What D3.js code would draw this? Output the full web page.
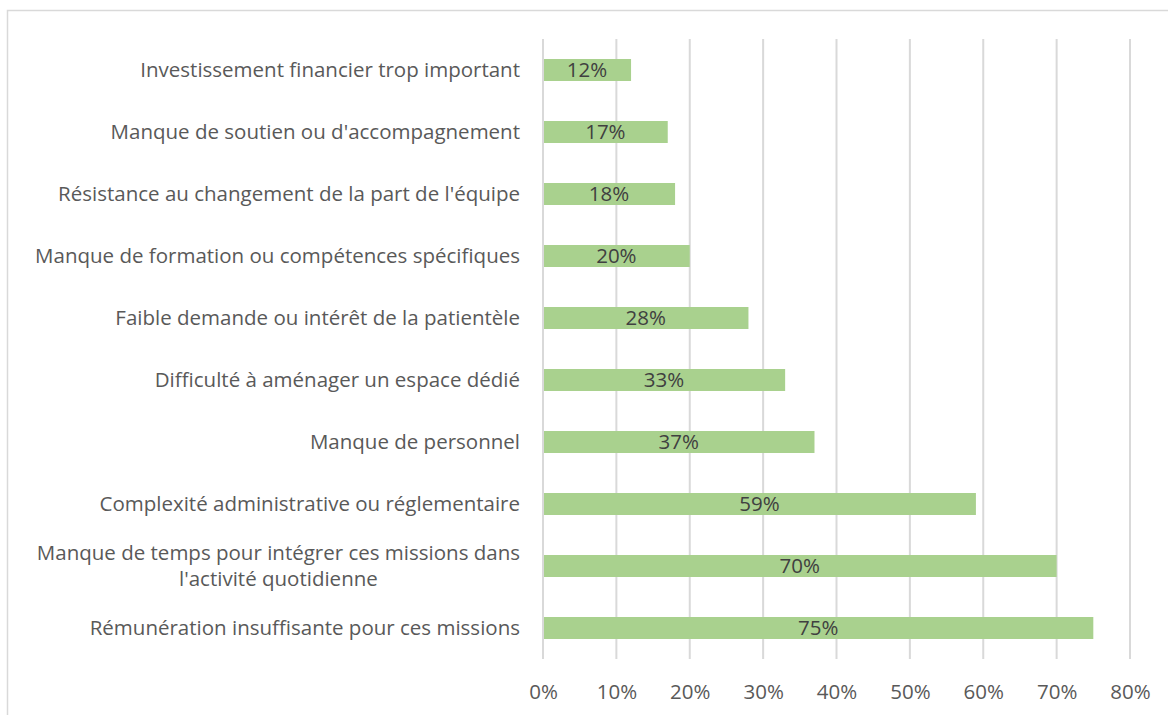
<!DOCTYPE html>
<html>
<head>
<meta charset="utf-8">
<script src="https://cdn.jsdelivr.net/npm/d3@7"></script>
<style>
  body { margin: 0; background: #fff; }
  svg { display: block; font-family: "Open Sans", Lato, sans-serif; }
</style>
</head>
<body>
<script>
// categories from top to bottom, with line breaks for wrapped labels
var categories = [
    ["Investissement financier trop important"],
    ["Manque de soutien ou d'accompagnement"],
    ["Résistance au changement de la part de l'équipe"],
    ["Manque de formation ou compétences spécifiques"],
    ["Faible demande ou intérêt de la patientèle"],
    ["Difficulté à aménager un espace dédié"],
    ["Manque de personnel"],
    ["Complexité administrative ou réglementaire"],
    ["Manque de temps pour intégrer ces missions dans", "l'activité quotidienne"],
    ["Rémunération insuffisante pour ces missions"]
];
var values = [12, 17, 18, 20, 28, 33, 37, 59, 70, 75];
var tickValues = [0, 10, 20, 30, 40, 50, 60, 70, 80];

var width = 1168, height = 715;
var margin = {top: 39, right: 38, bottom: 56, left: 543};
var w = width - margin.left - margin.right;
var h = height - margin.top - margin.bottom;
var fontSize = "20.5px";

var svg = d3.select("body")
    .append("svg")
    .attr("width", width)
    .attr("height", height);

// chart border (runs off the right and bottom edges)
svg.append("rect")
    .attr("x", 7.5)
    .attr("y", 10.5)
    .attr("width", 1200)
    .attr("height", 800)
    .attr("fill", "none")
    .attr("stroke", "#d9d9d9")
    .attr("stroke-width", 1.5);

var g = svg.append("g")
    .attr("transform", "translate(" + margin.left + "," + margin.top + ")");

var xScale = d3.scaleLinear()
    .domain([0, 80])
    .range([0, w]);

var yScale = d3.scaleBand()
    .domain(d3.range(categories.length))
    .range([0, h])
    .paddingInner(0.645)
    .paddingOuter(0.3225);

// gridlines
g.selectAll("line.grid")
    .data(tickValues)
    .enter()
    .append("line")
    .attr("class", "grid")
    .attr("x1", function(d) { return xScale(d); })
    .attr("x2", function(d) { return xScale(d); })
    .attr("y1", 0)
    .attr("y2", h)
    .attr("stroke", "#d9d9d9")
    .attr("stroke-width", 2);

// x axis labels
var xAxis = d3.axisBottom(xScale)
    .tickValues(tickValues)
    .tickFormat(function(d) { return d + "%"; })
    .tickSize(0)
    .tickPadding(25);

var ax = g.append("g")
    .attr("transform", "translate(0," + h + ")")
    .call(xAxis);
ax.select(".domain").remove();
ax.selectAll("text")
    .attr("fill", "#595959")
    .style("font-size", fontSize)
    .style("font-family", "'Open Sans', Lato, sans-serif");

// bars
g.selectAll("rect.bar")
    .data(values)
    .enter()
    .append("rect")
    .attr("class", "bar")
    .attr("x", xScale(0) + 1)
    .attr("y", function(d, i) { return yScale(i); })
    .attr("width", function(d) { return xScale(d) - xScale(0) - 1; })
    .attr("height", yScale.bandwidth())
    .attr("fill", "#a9d18e");

// value labels, centered on bars
g.selectAll("text.val")
    .data(values)
    .enter()
    .append("text")
    .attr("class", "val")
    .attr("x", function(d) { return xScale(d) / 2; })
    .attr("y", function(d, i) { return yScale(i) + yScale.bandwidth() / 2; })
    .attr("dy", "0.36em")
    .attr("text-anchor", "middle")
    .attr("fill", "#404040")
    .style("font-size", fontSize)
    .text(function(d) { return d + "%"; });

// category labels
var lineH = 26;
var labels = g.selectAll("text.cat")
    .data(categories)
    .enter()
    .append("text")
    .attr("class", "cat")
    .attr("fill", "#595959")
    .style("font-size", fontSize)
    .attr("text-anchor", "middle");

labels.each(function(lines, i) {
    var t = d3.select(this);
    var cy = yScale(i) + yScale.bandwidth() / 2;
    var y0 = cy - (lines.length - 1) * lineH / 2;
    lines.forEach(function(s, k) {
        t.append("tspan")
            .attr("x", 0)
            .attr("y", y0 + k * lineH)
            .attr("dy", "0.36em")
            .text(s);
    });
    // right-align the block, center the lines within it
    var bw = this.getBBox().width;
    t.selectAll("tspan").attr("x", -23 - bw / 2);
});
</script>
</body>
</html>
